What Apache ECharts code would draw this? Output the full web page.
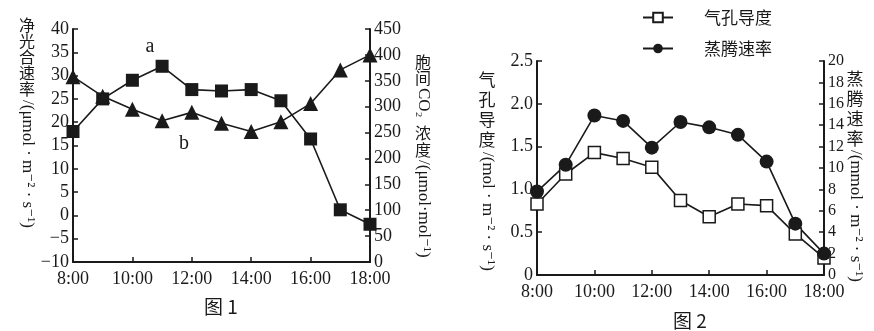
<!DOCTYPE html>
<html>
<head>
<meta charset="utf-8">
<script src="https://cdn.jsdelivr.net/npm/echarts@6/dist/echarts.min.js"></script>
<style>
html,body{margin:0;padding:0;background:#fff;}
#c{width:874px;height:331px;}
</style>
</head>
<body>
<div id="c"></div>
<script>
// ---- data ----
const hours = ['8:00','9:00','10:00','11:00','12:00','13:00','14:00','15:00','16:00','17:00','18:00'];
// Figure 1
const netPhoto = [18, 25, 29, 32, 27, 26.7, 27, 24.6, 16.4, 1.2, -1.9];      // a, 净光合速率 (left axis)
const co2Conc  = [358, 320, 295, 273, 289, 268, 252, 271, 306, 371, 400];    // b, 胞间CO2浓度 (right axis)
// Figure 2
const conductance   = [0.83, 1.18, 1.43, 1.36, 1.26, 0.87, 0.68, 0.83, 0.81, 0.48, 0.2];  // 气孔导度
const transpiration = [7.8, 10.3, 14.9, 14.4, 11.9, 14.3, 13.8, 13.1, 10.6, 4.8, 2.0];    // 蒸腾速率
// tick settings
const fig1Left  = {min: -10, max: 40, interval: 5};
const fig1Right = {min: 0, max: 450, interval: 50};
const fig2Left  = {min: 0, max: 2.5, interval: 0.5};
const fig2Right = {min: 0, max: 20, interval: 2};

const SERIF = '"Liberation Serif","DejaVu Serif",serif';
const CJK = '"Noto Sans CJK SC","Noto Sans",sans-serif';
const BLACK = '#1a1a1a';

function xAxisCfg(gi){
  return {
    type: 'category', gridIndex: gi, data: hours, boundaryGap: false,
    axisLine: {onZero: false, lineStyle: {color: BLACK, width: 2}},
    axisTick: {inside: true, length: 5, interval: 1, lineStyle: {color: BLACK, width: 1.5}},
    axisLabel: {interval: 1, color: BLACK, fontFamily: SERIF, fontSize: 18, margin: 8},
    splitLine: {show: false}
  };
}
function yAxisCfg(gi, pos, rng, fs, fmt){
  return {
    type: 'value', gridIndex: gi, position: pos, min: rng.min, max: rng.max, interval: rng.interval,
    axisLine: {show: true, onZero: false, lineStyle: {color: BLACK, width: 2}},
    axisTick: {show: true, inside: true, length: 5, lineStyle: {color: BLACK, width: 1.5}},
    axisLabel: {color: BLACK, fontFamily: SERIF, fontSize: fs, margin: 4, formatter: fmt},
    splitLine: {show: false}
  };
}

const chart = echarts.init(document.getElementById('c'));
chart.setOption({
  animation: false,
  backgroundColor: '#fff',
  grid: [
    {left: 73, right: 504, top: 29, bottom: 69},
    {left: 537, right: 50, top: 61, bottom: 56}
  ],
  legend: {
    data: ['气孔导度', '蒸腾速率'],
    orient: 'vertical', left: 637, top: 4,
    itemWidth: 30, itemHeight: 12, itemGap: 14,
    textStyle: {fontFamily: CJK, fontSize: 17, color: BLACK, padding: [0,0,0,26]}
  },
  xAxis: [xAxisCfg(0), xAxisCfg(1)],
  yAxis: [
    yAxisCfg(0, 'left', fig1Left, 18, v => v < 0 ? '−' + Math.abs(v) : String(v)),
    yAxisCfg(0, 'right', fig1Right, 18, v => String(v)),
    yAxisCfg(1, 'left', fig2Left, 18, v => v === 0 ? '0' : v.toFixed(1)),
    yAxisCfg(1, 'right', fig2Right, 16, v => String(v))
  ],
  series: [
    {name: 'a', type: 'line', xAxisIndex: 0, yAxisIndex: 0, data: netPhoto,
     symbol: 'rect', symbolSize: 13, itemStyle: {color: BLACK},
     lineStyle: {color: BLACK, width: 1.6}},
    {name: 'b', type: 'line', xAxisIndex: 0, yAxisIndex: 1, data: co2Conc,
     symbol: 'triangle', symbolSize: 15, itemStyle: {color: BLACK},
     lineStyle: {color: BLACK, width: 1.6}},
    {name: '气孔导度', type: 'line', xAxisIndex: 1, yAxisIndex: 2, data: conductance,
     symbol: 'rect', symbolSize: 12, itemStyle: {color: '#fff', borderColor: BLACK, borderWidth: 1.5},
     lineStyle: {color: BLACK, width: 1.6}},
    {name: '蒸腾速率', type: 'line', xAxisIndex: 1, yAxisIndex: 3, data: transpiration,
     symbol: 'circle', symbolSize: 14, itemStyle: {color: BLACK},
     lineStyle: {color: BLACK, width: 1.6}}
  ],
  graphic: [
    // figure 1 left axis name
    {type: 'text', x: 27, y: 17, style: {text: '净\n光\n合\n速\n率', font: '16px ' + CJK, lineHeight: 16, fill: BLACK, textAlign: 'center', textVerticalAlign: 'top'}},
    {type: 'text', x: 27, y: 100, rotation: -Math.PI/2, style: {text: '/(μmol · m⁻² · s⁻¹)', font: '17px ' + SERIF, fill: BLACK, textAlign: 'left', textVerticalAlign: 'middle'}},
    // figure 1 right axis name
    {type: 'text', x: 423, y: 54, style: {text: '胞\n间', font: '16px ' + CJK, lineHeight: 16, fill: BLACK, textAlign: 'center', textVerticalAlign: 'top'}},
    {type: 'text', x: 423, y: 88, rotation: -Math.PI/2, style: {text: 'CO₂', font: '17px ' + SERIF, fill: BLACK, textAlign: 'left', textVerticalAlign: 'middle'}},
    {type: 'text', x: 423, y: 124, style: {text: '浓\n度', font: '16px ' + CJK, lineHeight: 17, fill: BLACK, textAlign: 'center', textVerticalAlign: 'top'}},
    {type: 'text', x: 423, y: 160, rotation: -Math.PI/2, style: {text: '/(μmol·mol⁻¹)', font: '17px ' + SERIF, fill: BLACK, textAlign: 'left', textVerticalAlign: 'middle'}},
    // figure 2 left axis name
    {type: 'text', x: 487, y: 70, style: {text: '气\n孔\n导\n度', font: '17px ' + CJK, lineHeight: 20, fill: BLACK, textAlign: 'center', textVerticalAlign: 'top'}},
    {type: 'text', x: 487, y: 152, rotation: -Math.PI/2, style: {text: '/(mol · m⁻² · s⁻¹)', font: '17px ' + SERIF, fill: BLACK, textAlign: 'left', textVerticalAlign: 'middle'}},
    // figure 2 right axis name
    {type: 'text', x: 855, y: 69, style: {text: '蒸\n腾\n速\n率', font: '17px ' + CJK, lineHeight: 20, fill: BLACK, textAlign: 'center', textVerticalAlign: 'top'}},
    {type: 'text', x: 855, y: 150, rotation: -Math.PI/2, style: {text: '/(mmol · m⁻² · s⁻¹)', font: '17px ' + SERIF, fill: BLACK, textAlign: 'left', textVerticalAlign: 'middle'}},
    // curve labels
    {type: 'text', x: 150, y: 47, style: {text: 'a', font: '20px ' + SERIF, fill: BLACK, textAlign: 'center', textVerticalAlign: 'middle'}},
    {type: 'text', x: 184, y: 144, style: {text: 'b', font: '20px ' + SERIF, fill: BLACK, textAlign: 'center', textVerticalAlign: 'middle'}},
    // captions
    {type: 'text', x: 221, y: 307, style: {text: '图 1', font: '19px ' + CJK, fill: BLACK, textAlign: 'center', textVerticalAlign: 'middle'}},
    {type: 'text', x: 690, y: 321, style: {text: '图 2', font: '19px ' + CJK, fill: BLACK, textAlign: 'center', textVerticalAlign: 'middle'}}
  ]
});
</script>
</body>
</html>
